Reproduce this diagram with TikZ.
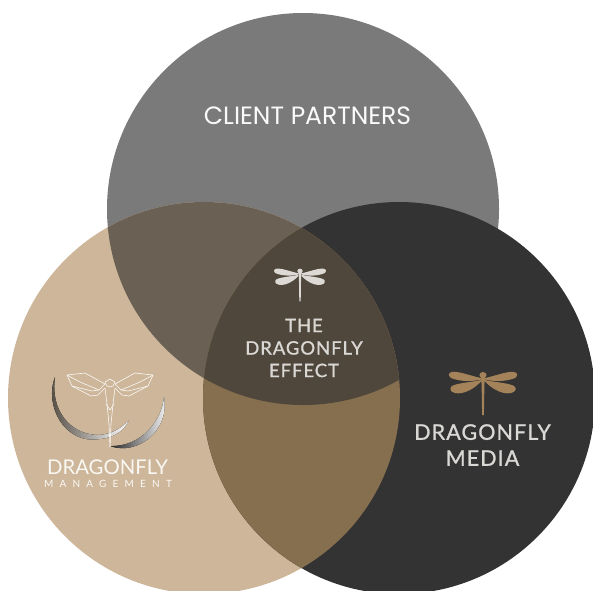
\documentclass[tikz,border=0pt]{standalone}
\usepackage{fontspec}
\setmainfont{Lato}
\newfontfamily\clientfont{Poppins}
\newfontfamily\spacedfont[LetterSpace=5,FakeBold=1]{Lato}
\newfontfamily\wideletters[LetterSpace=62]{Lato}
\definecolor{clientgrey}{HTML}{7A7A7A}
\definecolor{managementtan}{HTML}{CDB699}
\definecolor{mediadark}{HTML}{333333}
\definecolor{clienttan}{HTML}{6A6053}
\definecolor{mediatan}{HTML}{866F4E}
\definecolor{effectbrown}{HTML}{4F473B}
\definecolor{flybronze}{HTML}{A5835A}
\definecolor{flypale}{HTML}{DDD9D5}
\definecolor{labelpale}{HTML}{DAD8D5}
\def\clientdisc{(303,209) circle (196)}
\def\managementdisc{(204,398) circle (196)}
\def\mediadisc{(399,398) circle (196)}
\tikzset{
  flylabel/.style={text=labelpale,align=center,inner sep=0pt},
  wireline/.style={draw=white!92!managementtan,line width=.6pt,line join=round},
  dragonfly/.pic={
    \foreach \s in {1,-1}{
      \fill[xscale=\s] (-2,3) .. controls (-12,1) and (-24,-4) .. (-31,-3)
        .. controls (-35,-2.5) and (-35,1) .. (-32,3)
        .. controls (-22,7) and (-10,6.5) .. (-2,4.5) -- cycle;
      \fill[xscale=\s] (-2,5) .. controls (-10,7) and (-26,8) .. (-31,11)
        .. controls (-34,13) and (-33,17) .. (-28,18)
        .. controls (-19,20) and (-8,13) .. (-2,6.5) -- cycle;
    }
    \fill (0,0) ellipse (3.6 and 3);
    \fill (-2.2,2) -- (2.2,2) -- (1.4,9) -- (.9,40) -- (-.9,40) -- (-1.4,9) -- cycle;
  }
}
\begin{document}
\begin{tikzpicture}[x=1pt,y=-1pt]
  \useasboundingbox (0,0) rectangle (593,590);
  \clip (0,0) rectangle (593,590);
  % the three discs, media on top
  \fill[clientgrey] \clientdisc;
  \fill[managementtan] \managementdisc;
  \fill[mediadark] \mediadisc;
  % overlaps
  \begin{scope}
    \clip \managementdisc;
    \fill[clienttan] \clientdisc;
    \fill[mediatan] \mediadisc;
    \clip \clientdisc;
    \fill[effectbrown] \mediadisc;
  \end{scope}
  % texts
  \node[inner sep=0pt,text=white!96!clientgrey,font=\clientfont\fontsize{25}{28}\selectfont] (client) at (307.5,115.5) {CLIENT PARTNERS};
  \node[flylabel,font=\spacedfont\fontsize{18.5}{22.5}\selectfont] (effect) at (304,348) {THE\\DRAGONFLY\\EFFECT};
  \node[flylabel,font=\spacedfont\fontsize{21.5}{26}\selectfont] (media) at (482.5,445) {DRAGONFLY\\MEDIA};
  \node[inner sep=0pt,text=white!90!managementtan,font=\fontsize{20.3}{22}\selectfont] (management) at (107.5,467) {DRAGONFLY};
  \node[inner sep=0pt,text=white!90!managementtan,font=\wideletters\fontsize{10}{12}\selectfont] (managementsub) at (108,484) {MANAGEMENT};
  % plain flies
  \pic[color=flypale,scale=.76] at (300,271) {dragonfly};
  \pic[color=flybronze] at (483,375) {dragonfly};
  % crescents of the line logo
  \fill[left color=black!65!managementtan,middle color=black!55!managementtan,right color=white] (55,377)
    .. controls (44,405) and (64,445) .. (100,439)
    .. controls (113,438) and (124,431) .. (129,420)
    .. controls (121,429) and (111,434) .. (99,435)
    .. controls (70,435) and (50,410) .. (55,377) -- cycle;
  \fill[left color=black!85,middle color=white!85!black,right color=white] (110,446)
    .. controls (138,456) and (170,430) .. (164,397)
    .. controls (162,420) and (142,447) .. (110,446) -- cycle;
  % line logo, one half and its mirror image
  \begin{scope}[shift={(110,360)}]
    \foreach \s in {1,-1}{
      \begin{scope}[xscale=\s]
        \draw[wireline] (-43,15) -- (-25,13) -- (-5,24) -- (-11,30) -- (-18,31) -- (-38,26) -- cycle;
        \draw[wireline] (-43,15) -- (-30,22) -- (-11,30);
        \draw[wireline] (-38,26) -- (-19,36) -- (-12,35) -- (-5,28);
        \draw[wireline] (-5,22) -- (-3,26) -- (0,27);
        \draw[wireline] (-5,28) -- (-3,44) -- (-1,64) -- (0,87);
        \draw[wireline] (-4,44) -- (0,50);
      \end{scope}
    }
    \draw[wireline] (-5,22) -- (0,19) -- (5,22);
  \end{scope}
\end{tikzpicture}
\end{document}
